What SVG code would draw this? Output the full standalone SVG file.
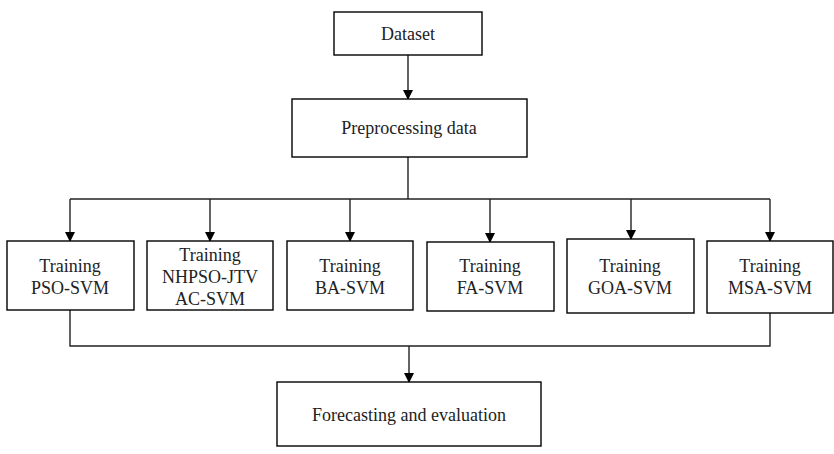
<svg xmlns="http://www.w3.org/2000/svg" width="834" height="454" viewBox="0 0 834 454">
<style>
rect{fill:#fff;stroke:#000;stroke-width:1.4}
text{font-family:"Liberation Serif","Times New Roman",serif;font-size:18px;fill:#222;text-anchor:middle}
.c{fill:none;stroke:#222;stroke-width:1.4}
</style>
<defs>
<marker id="ah" markerWidth="10" markerHeight="10" refX="9" refY="5" orient="auto" markerUnits="userSpaceOnUse" viewBox="0 0 10 10">
<path d="M0,0 L10,5 L0,10 z" fill="#000"/>
</marker>
</defs>
<rect width="834" height="454" style="fill:#fff;stroke:none"/>
<g id="connectors">
<path class="c" d="M408,55 V99" marker-end="url(#ah)"/>
<path class="c" d="M408,157 V199"/>
<path class="c" d="M70,199 H770"/>
<path class="c" d="M70,199 V241" marker-end="url(#ah)"/>
<path class="c" d="M210,199 V241" marker-end="url(#ah)"/>
<path class="c" d="M350,199 V241" marker-end="url(#ah)"/>
<path class="c" d="M490,199 V242" marker-end="url(#ah)"/>
<path class="c" d="M631,199 V239" marker-end="url(#ah)"/>
<path class="c" d="M770,199 V241" marker-end="url(#ah)"/>
<path class="c" d="M70,310 V346 H770 V313"/>
<path class="c" d="M409,346 V382" marker-end="url(#ah)"/>
</g>
<g id="dataset"><rect x="334" y="12" width="148" height="43"/><text x="408" y="40">Dataset</text></g>
<g id="preprocessing"><rect x="292" y="99" width="235" height="58"/><text x="409" y="134">Preprocessing data</text></g>
<g id="pso"><rect x="7" y="241" width="127" height="69"/><text x="70" y="272">Training</text><text x="70" y="294">PSO-SVM</text></g>
<g id="nhpso"><rect x="147" y="241" width="126" height="69"/><text x="210" y="261">Training</text><text x="210" y="283">NHPSO-JTV</text><text x="210" y="305">AC-SVM</text></g>
<g id="ba"><rect x="287" y="241" width="126" height="69"/><text x="350" y="272">Training</text><text x="350" y="294">BA-SVM</text></g>
<g id="fa"><rect x="427" y="242" width="127" height="69"/><text x="490" y="272">Training</text><text x="490" y="294">FA-SVM</text></g>
<g id="goa"><rect x="567" y="239" width="127" height="74"/><text x="630" y="272">Training</text><text x="630" y="294">GOA-SVM</text></g>
<g id="msa"><rect x="707" y="241" width="126" height="72"/><text x="770" y="272">Training</text><text x="770" y="294">MSA-SVM</text></g>
<g id="forecasting"><rect x="277" y="382" width="264" height="64"/><text x="409" y="421">Forecasting and evaluation</text></g>
</svg>
